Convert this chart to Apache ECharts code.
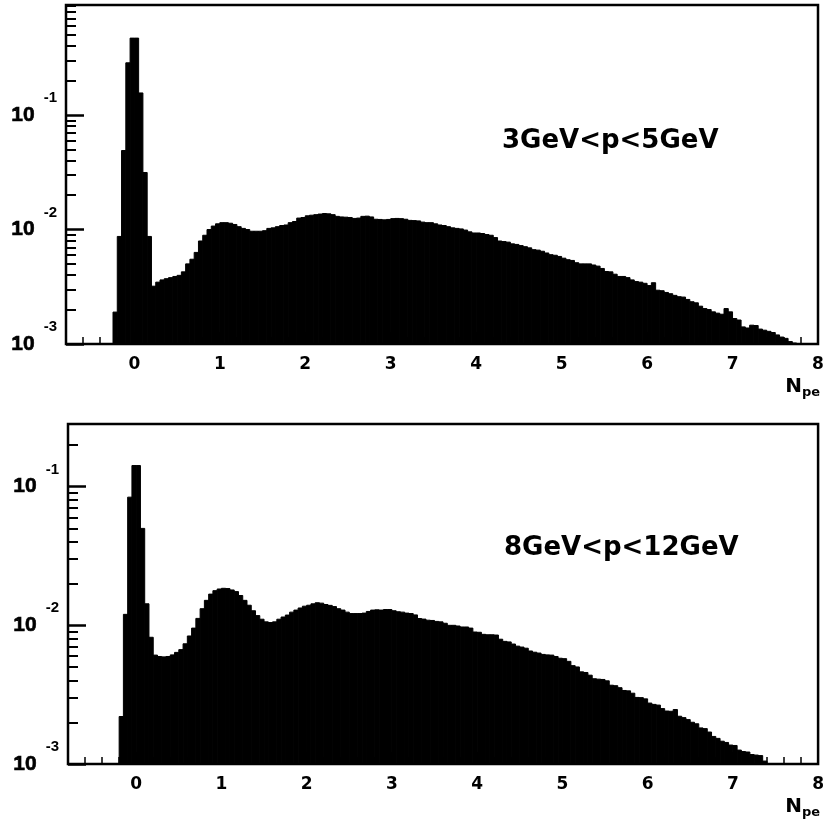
<!DOCTYPE html>
<html>
<head>
<meta charset="utf-8">
<script src="https://cdn.jsdelivr.net/npm/echarts@6/dist/echarts.min.js"></script>
<style>
  html, body { margin: 0; padding: 0; background: #fff; }
  #chart { width: 827px; height: 832px; }
</style>
</head>
<body>
<div id="chart"></div>
<script>
// ---- data ----
const binStart = -0.25;   // lower edge of first bin
const binWidth = 0.05;    // N_pe bin width

// 3 GeV < p < 5 GeV  (top panel)
const countsLowP = [
  0.0019, 0.0087, 0.049, 0.286, 0.47, 0.47, 0.156, 0.0315, 0.0087, 0.0032,
  0.00347, 0.00363, 0.00372, 0.0038, 0.00389, 0.00398, 0.00427, 0.00501, 0.0055, 0.00631,
  0.00794, 0.00891, 0.0100, 0.01072, 0.01122, 0.01148, 0.01148, 0.01135, 0.01107, 0.01059,
  0.01023, 0.0100, 0.00966, 0.00966, 0.00966, 0.00977, 0.01023, 0.01035, 0.01059, 0.01084,
  0.01096, 0.01148, 0.01175, 0.01259, 0.01274, 0.01318, 0.01334, 0.01349, 0.01365, 0.0138,
  0.01371, 0.01349, 0.01303, 0.01288, 0.01282, 0.01274, 0.0125, 0.01259, 0.01303, 0.01309,
  0.01288, 0.0123, 0.01225, 0.01216, 0.01225, 0.01245, 0.0125, 0.01245, 0.0123, 0.01202,
  0.01197, 0.01189, 0.01161, 0.01148, 0.01148, 0.01122, 0.01096, 0.01084, 0.01059, 0.01035,
  0.01023, 0.01012, 0.00989, 0.00955, 0.00933, 0.00933, 0.00923, 0.00904, 0.00891, 0.00851,
  0.00794, 0.00785, 0.00776, 0.0075, 0.00741, 0.00724, 0.00708, 0.00692, 0.00667, 0.00661,
  0.00646, 0.00624, 0.00603, 0.00596, 0.00582, 0.00562, 0.00545, 0.00537, 0.00513, 0.00501,
  0.00501, 0.00501, 0.0049, 0.00479, 0.00457, 0.0043, 0.00427, 0.00407, 0.00389, 0.00389,
  0.0038, 0.00363, 0.00351, 0.00347, 0.00339, 0.00324, 0.00343, 0.00295, 0.00292, 0.00282,
  0.00275, 0.00266, 0.00259, 0.00257, 0.00245, 0.00234, 0.00229, 0.00214, 0.00204, 0.0020,
  0.00191, 0.00186, 0.00182, 0.00204, 0.00191, 0.00167, 0.00162, 0.00141, 0.00138, 0.00146,
  0.00145, 0.00135, 0.00132, 0.00129, 0.00126, 0.0012, 0.00115, 0.00112, 0.00105, 0.00102
];

// 8 GeV < p < 12 GeV  (bottom panel)
const countsHighP = [
  0, 0.0022, 0.012, 0.084, 0.142, 0.142, 0.05, 0.0143, 0.0082, 0.0061,
  0.00596, 0.00592, 0.00596, 0.00612, 0.00638, 0.00668, 0.00736, 0.00838, 0.00955, 0.01122,
  0.01318, 0.01514, 0.01679, 0.01778, 0.01828, 0.01849, 0.01841, 0.01799, 0.0175, 0.01641,
  0.01514, 0.01396, 0.01274, 0.01175, 0.01107, 0.01059, 0.01047, 0.01059, 0.01107, 0.01148,
  0.01186, 0.01245, 0.01288, 0.01334, 0.01374, 0.01396, 0.01429, 0.01455, 0.01445, 0.01413,
  0.01393, 0.01365, 0.01318, 0.01288, 0.01245, 0.01216, 0.01216, 0.01216, 0.01225, 0.01259,
  0.01288, 0.01294, 0.01288, 0.0130, 0.0130, 0.01274, 0.01253, 0.01245, 0.01225, 0.01216,
  0.01189, 0.0112, 0.01109, 0.01089, 0.01084, 0.01067, 0.01059, 0.01035, 0.0100, 0.0100,
  0.00989, 0.00973, 0.00973, 0.00955, 0.00895, 0.00891, 0.00861, 0.00855, 0.00855, 0.00851,
  0.00794, 0.00766, 0.00759, 0.00733, 0.00708, 0.00697, 0.00684, 0.00653, 0.0064, 0.00631,
  0.00617, 0.00612, 0.0061, 0.00596, 0.00579, 0.00575, 0.0055, 0.00512, 0.00501, 0.00462,
  0.00457, 0.00437, 0.00412, 0.00409, 0.00407, 0.00398, 0.0037, 0.00367, 0.00355, 0.00339,
  0.00337, 0.00324, 0.00302, 0.00301, 0.00295, 0.00275, 0.00269, 0.00266, 0.00251, 0.00241,
  0.0024, 0.00247, 0.00221, 0.00216, 0.00209, 0.0020, 0.00195, 0.00182, 0.0018, 0.0017,
  0.00158, 0.00153, 0.00146, 0.00143, 0.00137, 0.00136, 0.00126, 0.00123, 0.00122, 0.00117,
  0.00116, 0.00115, 0.00105
];

const panelTitles = ['3GeV<p<5GeV', '8GeV<p<12GeV'];
const xMin = -0.8, xMax = 8;
const yMin = 0.001;
const yMaxes = [0.915, 0.283];
const xMajorTicks = [0, 1, 2, 3, 4, 5, 6, 7, 8];
const xMinorTicks = [-0.6, -0.4, -0.2, 0.2, 0.4, 0.6, 0.8, 1.2, 1.4, 1.6, 1.8, 2.2, 2.4, 2.6, 2.8,
  3.2, 3.4, 3.6, 3.8, 4.2, 4.4, 4.6, 4.8, 5.2, 5.4, 5.6, 5.8, 6.2, 6.4, 6.6, 6.8, 7.2, 7.4, 7.6, 7.8];
const yMajorTicks = [0.001, 0.01, 0.1];
const yMinorTicks = [0.002, 0.003, 0.004, 0.005, 0.006, 0.007, 0.008, 0.009,
  0.02, 0.03, 0.04, 0.05, 0.06, 0.07, 0.08, 0.09,
  0.2, 0.3, 0.4, 0.5, 0.6, 0.7, 0.8, 0.9];

// ---- chart ----
const FONT = 'DejaVu Sans';
const NUMFONT = 'Liberation Sans';
const chart = echarts.init(document.getElementById('chart'), null, { renderer: 'canvas' });

function histData(counts) {
  const out = [];
  counts.forEach((c, i) => {
    if (c > 0) {
      const lo = +(binStart + i * binWidth).toFixed(4);
      out.push([lo, +(lo + binWidth).toFixed(4), c]);
    }
  });
  return out;
}

const grids = [
  { left: 66, top: 5, width: 752, height: 339 },
  { left: 68, top: 424, width: 752, height: 340 }
];

const xAxes = [], yAxes = [], series = [];
grids.forEach((g, k) => {
  const maxY = yMaxes[k];
  xAxes.push({
    type: 'value', gridIndex: k, min: xMin, max: xMax, position: 'bottom',
    name: '{n|N}{s|pe}', nameLocation: 'end', nameGap: 2,
    nameTextStyle: {
      align: 'right', verticalAlign: 'top', padding: [30, 0, 0, 0],
      rich: {
        n: { fontFamily: FONT, fontWeight: 'bold', fontSize: 20, color: '#000' },
        s: { fontFamily: FONT, fontWeight: 'bold', fontSize: 13, color: '#000', padding: [12, 0, 0, 0] }
      }
    },
    axisLine: { show: false, onZero: false },
    splitLine: { show: false },
    axisTick: { show: true, inside: true, length: 12, customValues: xMajorTicks, lineStyle: { color: '#000', width: 2 } },
    axisLabel: { customValues: xMajorTicks, margin: 12, fontFamily: FONT, fontWeight: 'bold', fontSize: 17, color: '#000' }
  });
  xAxes.push({
    type: 'value', gridIndex: k, min: xMin, max: xMax, position: 'bottom',
    axisLine: { show: false, onZero: false }, splitLine: { show: false },
    axisTick: { show: true, inside: true, length: 7, customValues: xMinorTicks, lineStyle: { color: '#000', width: 1.5 } },
    axisLabel: { show: false }
  });
  yAxes.push({
    type: 'log', logBase: 10, gridIndex: k, min: yMin, max: maxY, position: 'left',
    axisLine: { show: false, onZero: false }, splitLine: { show: false },
    axisTick: { show: true, inside: true, length: 18, customValues: yMajorTicks, lineStyle: { color: '#000', width: 2.5 } },
    axisLabel: {
      customValues: yMajorTicks, margin: 9,
      formatter: v => '{b|10}{s|' + Math.round(Math.log10(v)) + '}',
      rich: {
        b: { fontFamily: NUMFONT, fontWeight: 'bold', fontSize: 21, color: '#000', textBorderColor: '#000', textBorderWidth: 0.6 },
        s: { fontFamily: NUMFONT, fontWeight: 'bold', fontSize: 15, color: '#000', padding: [0, 0, 34, 9] }
      }
    }
  });
  yAxes.push({
    type: 'log', logBase: 10, gridIndex: k, min: yMin, max: maxY, position: 'left',
    axisLine: { show: false, onZero: false }, splitLine: { show: false },
    axisTick: { show: true, inside: true, length: 10, customValues: yMinorTicks.filter(v => v < maxY), lineStyle: { color: '#000', width: 2 } },
    axisLabel: { show: false }
  });
  const counts = k === 0 ? countsLowP : countsHighP;
  series.push({
    type: 'custom', xAxisIndex: 2 * k, yAxisIndex: 2 * k,
    encode: { x: [0, 1], y: 2 },
    clip: true,
    data: histData(counts),
    renderItem: (params, api) => {
      const p0 = api.coord([api.value(0), api.value(2)]);
      const p1 = api.coord([api.value(1), yMin]);
      return {
        type: 'rect',
        shape: { x: p0[0], y: p0[1], width: p1[0] - p0[0], height: p1[1] - p0[1] },
        style: { fill: '#000', stroke: '#000', lineWidth: 1 }
      };
    },
    silent: true
  });
});

const option = {
  backgroundColor: '#fff',
  animation: false,
  grid: grids.map(g => Object.assign({ show: true, borderColor: '#000', borderWidth: 2.5, backgroundColor: 'transparent' }, g)),
  xAxis: xAxes,
  yAxis: yAxes,
  title: [
    { text: panelTitles[0], left: 497, top: 123, textStyle: { fontFamily: FONT, fontWeight: 'bold', fontSize: 26, color: '#000' } },
    { text: panelTitles[1], left: 499, top: 530, textStyle: { fontFamily: FONT, fontWeight: 'bold', fontSize: 26, color: '#000' } }
  ],
  series: series
};
chart.setOption(option);
</script>
</body>
</html>
